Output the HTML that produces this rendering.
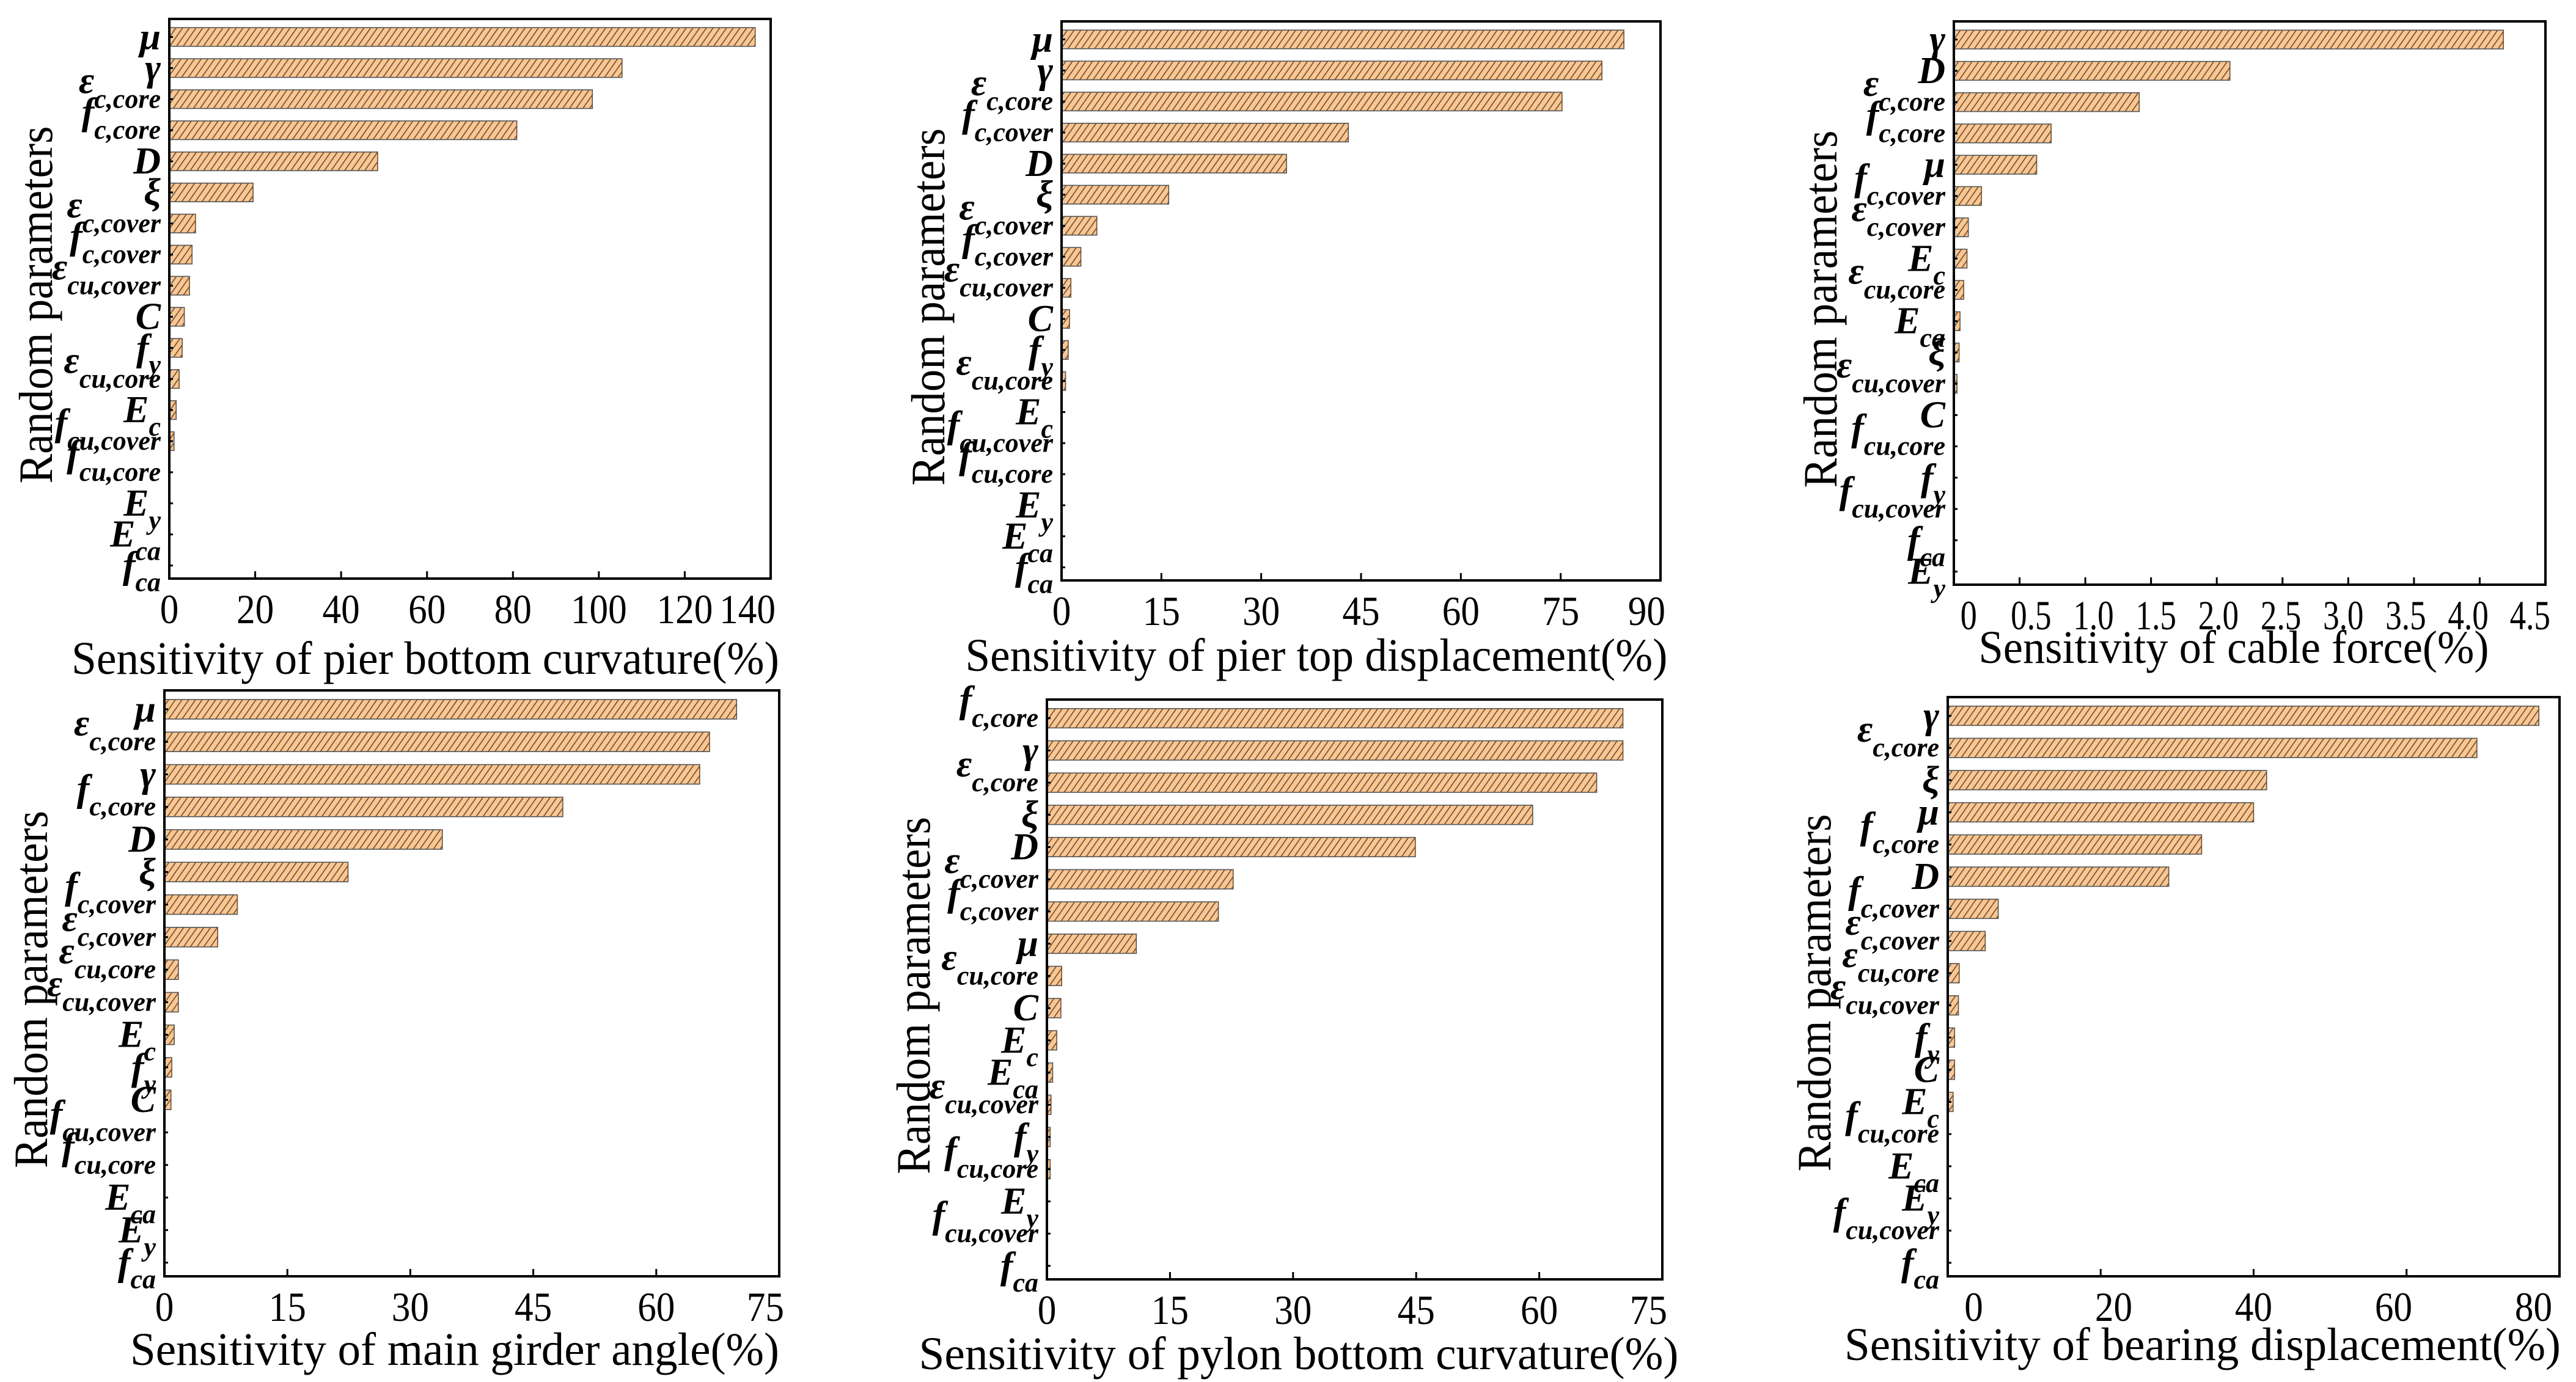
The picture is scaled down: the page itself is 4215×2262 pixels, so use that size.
<!DOCTYPE html>
<html>
<head>
<meta charset="utf-8">
<style>
  html,body{margin:0;padding:0;background:#fff;}
  svg{display:block;}
  text{font-family:"Liberation Serif", serif;}
  .cat{font-weight:bold;font-style:italic;}
</style>
</head>
<body>
<svg id="fig" xmlns="http://www.w3.org/2000/svg" width="4215" height="2262" viewBox="0 0 4215 2262">
  <defs>
    <pattern id="hatch" patternUnits="userSpaceOnUse" width="9" height="20" patternTransform="rotate(35)">
      <rect width="9" height="20" fill="#FBC690"/>
      <line x1="1" y1="0" x2="1" y2="20" stroke="#5a4432" stroke-width="1.5"/>
    </pattern>
  </defs>
  <rect width="4215" height="2262" fill="#fff"/>
</svg>
<script>
// ---------- data ----------
const P1_CATS = ["μ","γ","ε|c,core","f|c,core","D","ξ","ε|c,cover","f|c,cover","ε|cu,cover","C","f|y","ε|cu,core","E|c","f|cu,cover","f|cu,core","E|y","E|ca","f|ca"];
const P1_VALS = [136.4,105.4,98.5,80.9,48.5,19.5,6.1,5.3,4.7,3.5,3.0,2.3,1.6,1.1,0,0,0,0];
const P1_TICKS = [0,20,40,60,80,100,120,140];

const P2_CATS = ["μ","γ","ε|c,core","f|c,cover","D","ξ","ε|c,cover","f|c,cover","ε|cu,cover","C","f|y","ε|cu,core","E|c","f|cu,cover","f|cu,core","E|y","E|ca","f|ca"];
const P2_VALS = [84.5,81.2,75.2,43.1,33.8,16.1,5.3,2.9,1.4,1.2,1.0,0.6,0,0,0,0,0,0];
const P2_TICKS = [0,15,30,45,60,75,90];

const P3_CATS = ["γ","D","ε|c,core","f|c,core","μ","f|c,cover","ε|c,cover","E|c","ε|cu,core","E|ca","ξ","ε|cu,cover","C","f|cu,core","f|y","f|cu,cover","f|ca","E|y"];
const P3_VALS = [4.18,2.10,1.41,0.74,0.63,0.21,0.11,0.10,0.075,0.047,0.04,0.024,0,0,0,0,0,0];
const P3_TICKS = [0,0.5,1.0,1.5,2.0,2.5,3.0,3.5,4.0,4.5];
const P3_TICK_LABELS = ["0","0.5","1.0","1.5","2.0","2.5","3.0","3.5","4.0","4.5"];

const P4_CATS = ["μ","ε|c,core","γ","f|c,core","D","ξ","f|c,cover","ε|c,cover","ε|cu,core","ε|cu,cover","E|c","f|y","C","f|cu,cover","f|cu,core","E|ca","E|y","f|ca"];
const P4_VALS = [69.8,66.5,65.3,48.6,33.9,22.4,8.9,6.5,1.7,1.7,1.2,0.9,0.8,0,0,0,0,0];
const P4_TICKS = [0,15,30,45,60,75];

const P5_CATS = ["f|c,core","γ","ε|c,core","ξ","D","ε|c,cover","f|c,cover","μ","ε|cu,core","C","E|c","E|ca","ε|cu,cover","f|y","f|cu,core","E|y","f|cu,cover","f|ca"];
const P5_VALS = [70.2,70.2,67.0,59.2,44.9,22.7,20.9,10.9,1.8,1.7,1.2,0.7,0.5,0.4,0.4,0,0,0];
const P5_TICKS = [0,15,30,45,60,75];

const P6_CATS = ["γ","ε|c,core","ξ","μ","f|c,core","D","f|c,cover","ε|c,cover","ε|cu,core","ε|cu,cover","f|y","C","E|c","f|cu,core","E|ca","E|y","f|cu,cover","f|ca"];
const P6_VALS = [77.3,69.2,41.7,40.0,33.2,28.9,6.6,4.9,1.5,1.4,0.9,0.9,0.7,0,0,0,0,0];
const P6_TICKS = [0,20,40,60,80];

const P1_TITLE = "Sensitivity of pier bottom curvature(%)";
const P2_TITLE = "Sensitivity of pier top displacement(%)";
const P3_TITLE = "Sensitivity of cable force(%)";
const P4_TITLE = "Sensitivity of main girder angle(%)";
const P5_TITLE = "Sensitivity of pylon bottom curvature(%)";
const P6_TITLE = "Sensitivity of bearing displacement(%)";
const Y_TITLE = "Random parameters";

// ---------- layout (positions only) ----------
const panels = [
  {id:"pier-bottom-curvature", L:277,R:1261,T:31,B:947,max:140,cats:P1_CATS,vals:P1_VALS,ticks:P1_TICKS,labels:null,title:P1_TITLE,tx:696,ty:1079,tw:1158,lc:1,dw:0.45},
  {id:"pier-top-displacement", L:1737,R:2717,T:35,B:950,max:90,cats:P2_CATS,vals:P2_VALS,ticks:P2_TICKS,labels:null,title:P2_TITLE,tx:2154,ty:1074,tw:1149,lc:1,dw:0.45},
  {id:"cable-force", L:3197,R:4165,T:35,B:957,max:4.5,cats:P3_CATS,vals:P3_VALS,ticks:P3_TICKS,labels:P3_TICK_LABELS,title:P3_TITLE,tx:3655,ty:1061,tw:835,lc:0.95,dw:0.40},
  {id:"main-girder-angle", L:269,R:1275,T:1130,B:2089,max:75,cats:P4_CATS,vals:P4_VALS,ticks:P4_TICKS,labels:null,title:P4_TITLE,tx:744,ty:2210,tw:1062,lc:1,dw:0.45},
  {id:"pylon-bottom-curvature", L:1713,R:2720,T:1145,B:2094,max:75,cats:P5_CATS,vals:P5_VALS,ticks:P5_TICKS,labels:null,title:P5_TITLE,tx:2125,ty:2217,tw:1243,lc:1,dw:0.45},
  {id:"bearing-displacement", L:3187,R:4188,T:1141,B:2089,max:80,cats:P6_CATS,vals:P6_VALS,ticks:P6_TICKS,labels:null,title:P6_TITLE,tx:3604,ty:2202,tw:1172,lc:0.915,dw:0.45}
];

const NS = "http://www.w3.org/2000/svg";
const svg = document.getElementById("fig");
function mk(tag, attrs, parent){
  const e = document.createElementNS(NS, tag);
  for (const k in attrs) e.setAttribute(k, attrs[k]);
  (parent||svg).appendChild(e);
  return e;
}

panels.forEach(function(p, pi){
  const g = mk("g", {});
  
  
  const x = v => p.L + v / p.max * (p.R - p.L);
  const step = (p.B - p.T) / p.cats.length;
  const cy = i => p.T + step * (i + 0.58);

  // bars
  p.vals.forEach(function(v, i){
    if (v <= 0) return;
    const r = mk("rect", {x:p.L, y:cy(i) - step*0.3, width:Math.max(x(v) - p.L, 1), height:step*0.6,
      fill:"url(#hatch)", stroke:"#555", "stroke-width":1.6}, g);
    
    
  });

  // y ticks + category labels
  p.cats.forEach(function(c, i){
    const yy = cy(i);
    const tk = mk("line", {x1:p.L, x2:p.L+6, y1:yy, y2:yy, stroke:"#000", "stroke-width":3}, g);
    
    
    const parts = c.split("|");
    const main = parts[0], sub = parts[1];
    const t = mk("text", {x:p.L-14, "text-anchor":"end", "class":"cat", "font-size":62}, g);
    
    
    if (!sub) {
      t.setAttribute("y", yy + 20);
      t.textContent = main;
    } else if (sub.indexOf(",") >= 0) {
      t.setAttribute("y", yy + 14);
      const a = mk("tspan", {dy:-24}, t); a.textContent = main;
      const b = mk("tspan", {dy:24, "font-size":44}, t); b.textContent = sub;
    } else {
      t.setAttribute("y", yy + 20);
      const a = mk("tspan", {}, t); a.textContent = main;
      const b = mk("tspan", {dy:22, "font-size":44}, t); b.textContent = sub;
    }
  });

  // x ticks & labels
  const cx = (p.L + p.R) / 2;
  p.ticks.forEach(function(tv, k){
    const xx = x(tv);
    if (k > 0 && k < p.ticks.length - 1) {
      const tl = mk("line", {x1:xx, x2:xx, y1:p.B, y2:p.B-12, stroke:"#000", "stroke-width":3}, g);
      
      
    }
    const txt = p.labels ? p.labels[k] : String(tv);
    const w = p.dw * 68 * txt.replace(".", "").length + (txt.indexOf(".")>=0 ? 12 : 0);
    let lx = cx + (xx - cx) * p.lc;
    if (lx + w/2 > p.R + 8) lx = p.R + 8 - w/2;
    const lt = mk("text", {x:lx, y:p.B + 73, "text-anchor":"middle", "font-size":68,
      textLength:w, lengthAdjust:"spacingAndGlyphs"}, g);
    
    
    lt.textContent = txt;
  });

  // frame
  const fr = mk("rect", {x:p.L, y:p.T, width:p.R-p.L, height:p.B-p.T, fill:"none", stroke:"#000", "stroke-width":4}, g);
  
  

  // x title
  const xt = mk("text", {x:p.tx, y:p.ty + 24, "text-anchor":"middle", "font-size":76,
    textLength:p.tw, lengthAdjust:"spacingAndGlyphs"}, g);
  
  
  xt.textContent = p.title;

  // y title
  const yx = p.L - 218, yc = (p.T + p.B) / 2 + 10;
  const yt = mk("text", {x:yx, y:yc, "text-anchor":"middle", "font-size":78,
    transform:"rotate(-90 " + yx + " " + yc + ")", dy:26,
    textLength:585, lengthAdjust:"spacingAndGlyphs"}, g);
  
  
  yt.textContent = Y_TITLE;
});
</script>
</body>
</html>
